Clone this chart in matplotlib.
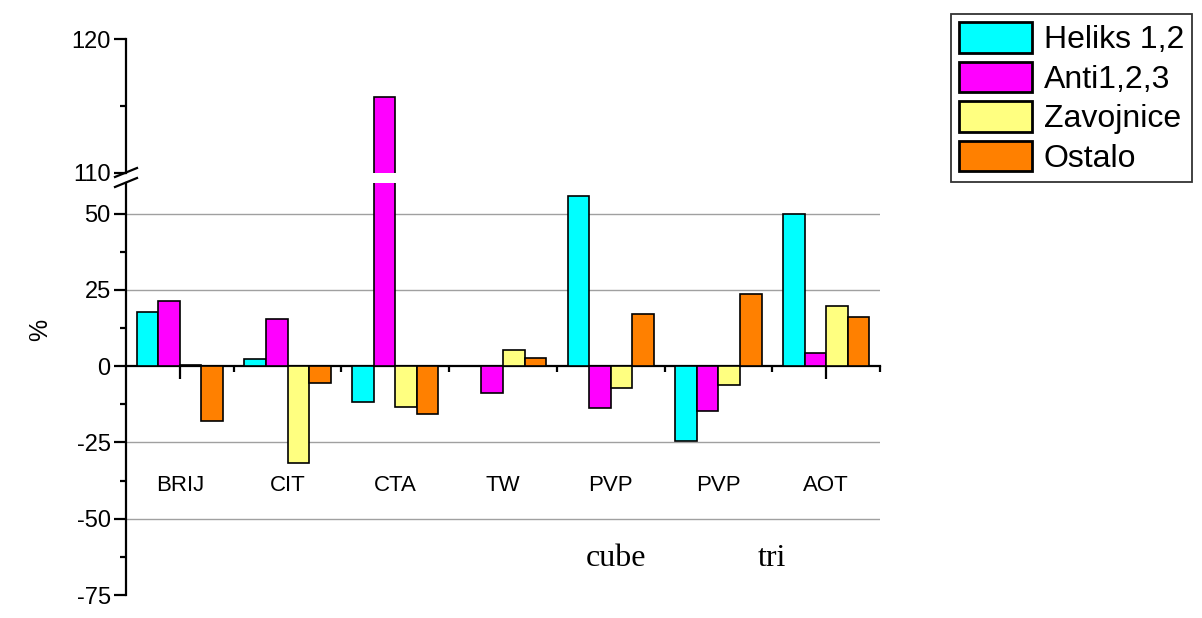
import matplotlib
matplotlib.use("Agg")
import matplotlib.pyplot as plt
import numpy as np

plt.rcParams['font.family'] = ['Liberation Sans', 'DejaVu Sans']
plt.rcParams['ytick.labelsize'] = 17
plt.rcParams['axes.unicode_minus'] = False

categories = ["BRIJ", "CIT", "CTA", "TW", "PVP", "PVP", "AOT"]
series_names = ["Heliks 1,2", "Anti1,2,3", "Zavojnice", "Ostalo"]
heliks = [17.8, 2.4, -11.8, 0.0, 55.6, -24.4, 50.0]
anti = [21.3, 15.4, 115.7, -8.8, -13.8, -14.6, 4.3]
zavojnice = [0.5, -31.9, -13.3, 5.4, -7.1, -6.1, 19.7]
ostalo = [-17.9, -5.5, -15.7, 2.8, 17.0, 23.6, 16.0]
colors = ["#00FFFF", "#FF00FF", "#FFFF80", "#FF8000"]
sub_labels = ["cube", "tri"]
lower_ticks = [-75, -50, -25, 0, 25, 50]
upper_ticks = [110, 120]

series = [heliks, anti, zavojnice, ostalo]

fig = plt.figure(figsize=(12.02, 6.18), dpi=100)
ax_lo = fig.add_axes([126 / 1202, 1 - 595 / 618, 754 / 1202, 412 / 618])
ax_hi = fig.add_axes([126 / 1202, 1 - 173 / 618, 754 / 1202, 134 / 618])

x = np.arange(1, len(categories) + 1)
width = 0.2
handles = []
for i, (vals, col, name) in enumerate(zip(series, colors, series_names)):
    offs = x + (i - 1.5) * width
    for ax in (ax_lo, ax_hi):
        b = ax.bar(offs, vals, width=width, color=col, edgecolor="black",
                   linewidth=1.2, zorder=3, label=name)
    handles.append(b)

# lower panel
ax_lo.set_xlim(0.5, 7.5)
ax_lo.set_ylim(-75, 60)
for side in ("top", "right"):
    ax_lo.spines[side].set_visible(False)
ax_lo.spines["bottom"].set_position(("data", 0))
ax_lo.spines["left"].set_linewidth(1.6)
ax_lo.spines["bottom"].set_linewidth(1.6)
ax_lo.set_yticks(lower_ticks)
ax_lo.set_yticks([-62.5, -37.5, -12.5, 12.5, 37.5], minor=True)
ax_lo.set_xticks([1, 7])
ax_lo.set_xticks(np.arange(1.5, 7.6, 1.0), minor=True)
ax_lo.set_xticklabels([])
ax_lo.tick_params(axis="both", which="major", direction="out", length=9,
                  width=1.6, pad=2)
ax_lo.tick_params(axis="both", which="minor", direction="out", length=4.5,
                  width=1.6)
for gv in (-50, -25, 25, 50):
    ax_lo.axhline(gv, color="#a0a0a0", linewidth=1.0, zorder=1)

for xi, lab in zip(x, categories):
    ax_lo.text(xi, -39, lab, ha="center", va="center", fontsize=16, zorder=4)

ax_lo.add_patch(plt.Rectangle((4.56, -70.5), 3.07, 15.5, facecolor="white",
                              edgecolor="none", zorder=2, clip_on=False))
for xs, lab in zip([5.05, 6.5], sub_labels):
    ax_lo.text(xs, -63, lab, ha="center", va="center", fontsize=23,
               family=["Liberation Serif", "DejaVu Serif"], zorder=4)

fig.text(40 / 1202, 1 - 330 / 618, "%", rotation=90, ha="center",
         va="center", fontsize=18)

# upper panel
ax_hi.set_xlim(0.5, 7.5)
ax_hi.set_ylim(110, 120)
for side in ("top", "right", "bottom"):
    ax_hi.spines[side].set_visible(False)
ax_hi.spines["left"].set_linewidth(1.6)
ax_hi.set_xticks([])
ax_hi.set_yticks(upper_ticks)
ax_hi.set_yticks([115], minor=True)
ax_hi.tick_params(axis="y", which="major", direction="out", length=9,
                  width=1.6, pad=2)
ax_hi.tick_params(axis="y", which="minor", direction="out", length=4.5,
                  width=1.6)
ax_hi.patch.set_alpha(0)
ax_lo.patch.set_alpha(0)

ax_lo.set_yticklabels([str(t) for t in lower_ticks], fontsize=17)
ax_hi.set_yticklabels([str(t) for t in upper_ticks], fontsize=17)

# break marks on the y axis
for yc in (172.5, 182.5):
    yf = 1 - yc / 618
    fig.add_artist(plt.Line2D([115 / 1202, 137 / 1202],
                              [yf - 4.5 / 618, yf + 4.5 / 618],
                              color="black", linewidth=1.6))

leg = fig.legend(handles=handles, labels=series_names, loc="upper left",
                 bbox_to_anchor=(951 / 1202, 1 - 14 / 618), fontsize=23,
                 frameon=True, fancybox=False, shadow=False,
                 handlelength=2.3, handleheight=1.1, labelspacing=0.2,
                 handletextpad=0.35, borderpad=0.25, borderaxespad=0)
leg.get_frame().set_edgecolor("black")
leg.get_frame().set_linewidth(1.3)
for p in leg.get_patches():
    p.set_linewidth(2.0)

fig.savefig("out.png", dpi=100)
